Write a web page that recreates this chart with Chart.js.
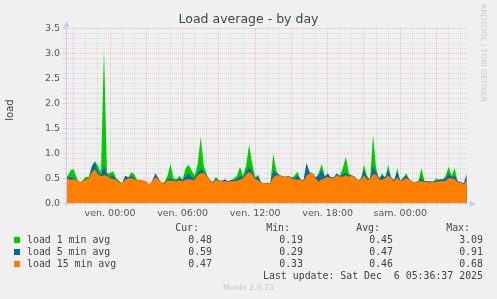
<!DOCTYPE html>
<html><head><meta charset="utf-8">
<script src="https://cdn.jsdelivr.net/npm/chart.js@4"></script>
<style>
html,body{margin:0;padding:0;background:#f0f0f0;width:497px;height:299px;overflow:hidden}
#wrap{position:relative;width:497px;height:299px}
canvas{position:absolute;left:0;top:0}
.t{position:absolute;white-space:pre;line-height:12px;height:12px}
.mono{font-family:"DejaVu Sans Mono",monospace;font-size:9.9px;color:#444}
.r{text-align:right}
.sq{position:absolute;width:6px;height:6px}
</style></head>
<body><div id="wrap">
<canvas id="c" width="497" height="299"></canvas>
<div class="t" style="left:0;width:497px;top:12px;height:14px;line-height:14px;text-align:center;font-family:'DejaVu Sans';font-size:12.5px;color:#444">Load average - by day</div>
<div class="t" style="left:-8px;top:104px;width:36px;text-align:center;transform:rotate(-90deg);font-family:'DejaVu Sans';font-size:10px;color:#444">load</div>
<div class="t" style="left:488px;top:4px;transform-origin:0 0;transform:rotate(90deg);font-family:'DejaVu Sans';font-size:7.6px;color:#c8c8c8;line-height:9px">RRDTOOL / TOBI OETIKER</div>
<div id="legend"></div>
<div class="t" style="left:0;width:497px;top:282px;text-align:center;font-family:'DejaVu Sans';font-size:7.8px;color:#c4c4c4">Munin 2.0.73</div>
</div>
<script>
const seriesNames = ['load 1 min avg','load 5 min avg','load 15 min avg'];
const seriesColors = ['#00cc00','#0066b3','#ff8000'];
const statHeads = ['Cur:','Min:','Avg:','Max:'];
const stats1 = ['0.48','0.19','0.45','3.09'];
const stats5 = ['0.59','0.29','0.47','0.91'];
const stats15 = ['0.47','0.33','0.46','0.68'];
const lastUpdate = 'Last update: Sat Dec  6 05:36:37 2025';
const xLabelHours = [0,6,12,18,24];
const xLabelTexts = ['ven. 00:00','ven. 06:00','ven. 12:00','ven. 18:00','sam. 00:00'];

// hours relative to Friday 00:00
const times = [-3.75,-3.5,-3.25,-3,-2.75,-2.5,-2.25,-2,-1.75,-1.5,-1.25,-1,-0.75,-0.5,-0.25,
0,0.25,0.5,0.75,1,1.25,1.5,1.75,2,2.25,2.5,2.75,3,3.25,3.5,3.75,4,4.25,4.5,4.75,5,5.25,5.5,5.75,
6,6.25,6.5,6.75,7,7.25,7.5,7.75,8,8.25,8.5,8.75,9,9.25,9.5,9.75,10,10.25,10.5,10.75,11,11.25,11.5,11.75,
12,12.25,12.5,12.75,13,13.25,13.5,13.75,14,14.25,14.5,14.75,15,15.25,15.5,15.75,16,16.25,16.5,16.75,17,17.25,17.5,17.75,
18,18.25,18.5,18.75,19,19.25,19.5,19.75,20,20.25,20.5,20.75,21,21.25,21.5,21.75,22,22.25,22.5,22.75,23,23.25,23.5,23.75,
24,24.25,24.5,24.75,25,25.25,25.5,25.75,26,26.25,26.5,26.75,27,27.25,27.5,27.75,28,28.25,28.5,28.75,29,29.25,29.5];

const load15 = [.50,.49,.47,.48,.47,.43,.44,.47,.50,.62,
.68,.58,.54,.56,.55,.50,.49,.47,.42,.40,
.47,.50,.50,.48,.47,.45,.46,.44,.37,.44,
.52,.48,.42,.39,.46,.45,.44,.44,.46,.44,
.47,.48,.47,.47,.56,.60,.60,.55,.46,.40,
.47,.45,.44,.44,.43,.44,.44,.45,.47,.50,
.57,.63,.58,.48,.46,.41,.40,.40,.39,.52,
.56,.56,.53,.53,.54,.50,.48,.47,.47,.44,
.55,.60,.60,.50,.43,.48,.50,.53,.50,.50,
.56,.53,.53,.56,.53,.55,.52,.44,.48,.56,
.47,.48,.58,.57,.48,.47,.50,.56,.50,.44,
.52,.44,.47,.50,.47,.42,.42,.44,.44,.43,
.42,.42,.42,.43,.44,.44,.45,.50,.50,.48,
.42,.42,.38,.47];

const load5 = [.50,.52,.52,.50,.47,.42,.44,.48,.50,.72,
.83,.62,.56,.75,.58,.52,.56,.48,.43,.40,
.55,.52,.54,.50,.47,.46,.45,.43,.36,.45,
.60,.50,.41,.40,.48,.50,.45,.46,.50,.46,
.55,.60,.52,.50,.60,.70,.62,.56,.47,.42,
.50,.46,.45,.48,.44,.47,.46,.48,.55,.52,
.62,.73,.62,.50,.53,.42,.40,.41,.40,.65,
.60,.57,.54,.53,.55,.52,.50,.55,.48,.45,
.80,.62,.60,.52,.55,.66,.52,.60,.52,.52,
.60,.54,.57,.62,.55,.56,.53,.45,.50,.66,
.50,.49,.75,.62,.50,.56,.52,.66,.52,.46,
.63,.45,.50,.55,.48,.43,.42,.45,.50,.44,
.44,.44,.43,.45,.48,.48,.50,.59,.52,.55,
.44,.43,.40,.59];

const load1 = [.52,.55,.66,.68,.50,.40,.46,.53,.52,.75,
.84,.75,.62,3.09,.60,.60,.64,.50,.45,.38,
.52,.50,.62,.58,.46,.45,.44,.42,.35,.44,
.55,.48,.40,.42,.55,.78,.50,.48,.55,.47,
.70,.77,.65,.55,.78,1.33,.75,.58,.45,.40,
.53,.45,.44,.46,.42,.45,.50,.55,.73,.55,
.75,1.17,.80,.52,.57,.40,.38,.39,.38,.99,
.65,.55,.52,.50,.53,.50,.55,.63,.47,.44,
.80,.60,.58,.50,.60,.78,.55,.57,.50,.48,
.58,.55,.70,.93,.60,.55,.50,.43,.48,.77,
.55,.47,1.37,.70,.48,.60,.50,.77,.50,.44,
.70,.43,.52,.60,.46,.41,.40,.44,.70,.45,
.43,.42,.44,.50,.45,.46,.55,.73,.55,.70,
.42,.41,.38,.48];

// legend (HTML text)
(function(){
  const L = document.getElementById('legend');
  const rightEdges = [212,303,393,483];
  const headRight = [199,290,380,470];
  let h = '';
  statHeads.forEach((s,i)=>{ h += `<div class="t mono r" style="right:${497-headRight[i]}px;top:222px">${s}</div>`; });
  const rows = [stats1,stats5,stats15];
  const tops = [234,246,258];
  rows.forEach((r,k)=>{
    h += `<div class="sq" style="left:14px;top:${tops[k]+3}px;background:${seriesColors[k]}"></div>`;
    h += `<div class="t mono" style="left:27px;top:${tops[k]}px">${seriesNames[k]}</div>`;
    r.forEach((v,i)=>{ h += `<div class="t mono r" style="right:${497-rightEdges[i]}px;top:${tops[k]}px">${v}</div>`; });
  });
  h += `<div class="t mono r" style="right:${497-483}px;top:270px">${lastUpdate}</div>`;
  L.innerHTML = h;
})();

const axisArrows = {
  id:'axisArrows',
  afterDraw(chart){
    const {ctx, chartArea:a} = chart;
    ctx.save();
    ctx.strokeStyle = '#c6cdf5'; ctx.fillStyle = '#c6cdf5'; ctx.lineWidth = 1;
    ctx.beginPath();
    ctx.moveTo(a.left+0.5, a.bottom+3); ctx.lineTo(a.left+0.5, a.top-3);
    ctx.moveTo(a.left-3, a.bottom+0.5); ctx.lineTo(a.right+4, a.bottom+0.5);
    ctx.stroke();
    ctx.beginPath();
    ctx.moveTo(a.left+0.5, a.top-7); ctx.lineTo(a.left-2.5, a.top-1); ctx.lineTo(a.left+3.5, a.top-1); ctx.closePath(); ctx.fill();
    ctx.beginPath();
    ctx.moveTo(a.right+8, a.bottom+0.5); ctx.lineTo(a.right+2, a.bottom-2.5); ctx.lineTo(a.right+2, a.bottom+3.5); ctx.closePath(); ctx.fill();
    ctx.restore();
  }
};

function pts(vals){ return vals.map((v,i)=>({x:times[i], y:v})); }
const tickFont = {family:'DejaVu Sans', size:9.5};
const majorCol = 'rgba(230,110,110,0.38)';
const minorCol = 'rgba(150,150,150,0.24)';
new Chart(document.getElementById('c'), {
  type:'line',
  data:{datasets:[
    {label:seriesNames[0], data:pts(load1), backgroundColor:seriesColors[0], borderColor:'transparent', borderWidth:0, fill:'origin', pointRadius:0, tension:0, order:3},
    {label:seriesNames[1], data:pts(load5), backgroundColor:seriesColors[1], borderColor:'transparent', borderWidth:0, fill:'origin', pointRadius:0, tension:0, order:2},
    {label:seriesNames[2], data:pts(load15), backgroundColor:seriesColors[2], borderColor:'transparent', borderWidth:0, fill:'origin', pointRadius:0, tension:0, order:1}
  ]},
  options:{
    responsive:false, animation:false, devicePixelRatio:1,
    layout:{padding:{top:28.3, right:29, bottom:75.7, left:0}},
    plugins:{legend:{display:false}, tooltip:{enabled:false}, title:{display:false}},
    scales:{
      x:{type:'linear', min:-3.64, max:29.6,
        afterFit(s){ s.height = 20; },
        border:{display:false, dash:[1,1]},
        grid:{drawTicks:true, tickLength:3, lineWidth:1,
          color:(c)=> (Math.round(c.tick.value)%3===0) ? majorCol : minorCol},
        ticks:{stepSize:1, includeBounds:false, autoSkip:false, maxRotation:0, padding:2, font:tickFont, color:'#555',
          callback:(v)=>{ const k = xLabelHours.indexOf(Math.round(v)); return k>=0 ? xLabelTexts[k] : ''; }}
      },
      y:{type:'linear', min:0, max:3.5,
        afterFit(s){ s.width = 66; },
        border:{display:false, dash:[1,1]},
        grid:{drawTicks:true, tickLength:3, lineWidth:1,
          color:(c)=> (Math.round(c.tick.value*10)%5===0) ? majorCol : minorCol},
        ticks:{stepSize:0.1, autoSkip:false, padding:3, font:tickFont, color:'#555',
          callback:(v)=> (Math.round(v*10)%5===0) ? Number(v).toFixed(1) : ''}
      }
    }
  },
  plugins:[axisArrows]
});
</script>
</body></html>
